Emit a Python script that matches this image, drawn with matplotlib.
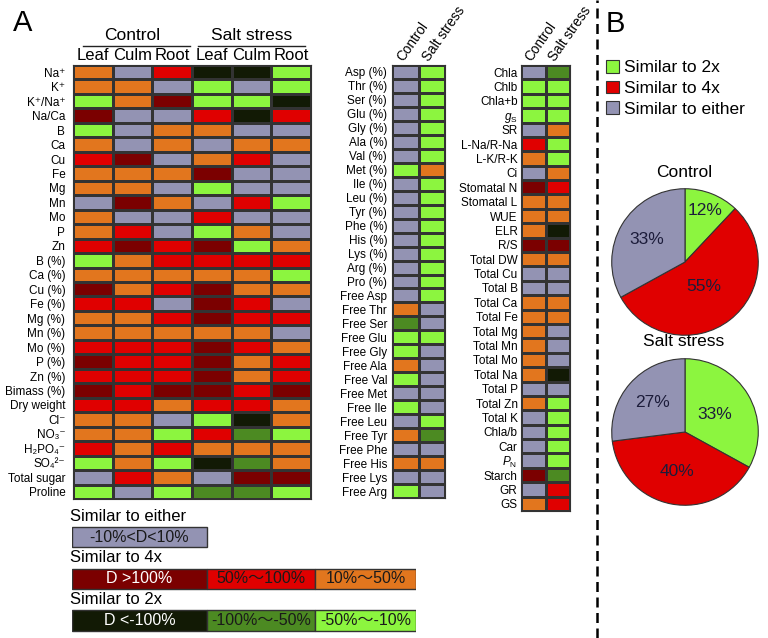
import matplotlib
matplotlib.use("Agg")
import matplotlib.pyplot as plt
import numpy as np
from matplotlib.colors import ListedColormap
from matplotlib.lines import Line2D

plt.rcParams['font.family'] = ['Liberation Sans', 'DejaVu Sans', 'Noto Sans CJK SC']
plt.rcParams['mathtext.fontset'] = 'custom'
plt.rcParams['mathtext.rm'] = 'Liberation Sans'
plt.rcParams['mathtext.it'] = 'Liberation Sans:italic'
plt.rcParams['mathtext.default'] = 'regular'

# ---- data -------------------------------------------------------------------
# cell codes: n = similar to either, D = >100%, r = 50~100%, o = 10~50%,
#             k = <-100%, G = -100~-50%, g = -50~-10%
code_order = "nDrokGg"
code_colors = ['#9393B3', '#7B0000', '#E00000', '#E2761E', '#121A05', '#4C8A22', '#8CF53F']

left_labels = ['Na⁺', 'K⁺', 'K⁺/Na⁺', 'Na/Ca', 'B', 'Ca', 'Cu', 'Fe', 'Mg',
               'Mn', 'Mo', 'P', 'Zn', 'B (%)', 'Ca (%)', 'Cu (%)', 'Fe (%)', 'Mg (%)',
               'Mn (%)', 'Mo (%)', 'P (%)', 'Zn (%)', 'Bimass (%)', 'Dry weight',
               'Cl⁻', 'NO₃⁻', 'H₂PO₄⁻', 'SO₄²⁻', 'Total sugar', 'Proline']
left_cols = ['Leaf', 'Culm', 'Root', 'Leaf', 'Culm', 'Root']
left_codes = ["onrkkg", "oongng", "goDggk", "Dnnrkr", "gnoonn", "ononoo", "rDnorn",
              "oooDnn", "oongnn", "nDonrg", "onnrnn", "orngon", "rDrDgo", "gorrrr",
              "ooooog", "DorDoo", "rrnDrn", "oorDrr", "ooooon", "rrrDro", "DrrDor",
              "rrrDor", "DrDDrD", "rrorro", "oongko", "oogrGg", "rorooo", "gogkGo",
              "nronDD", "gngGGg"]

mid_labels = ['Asp (%)', 'Thr (%)', 'Ser (%)', 'Glu (%)', 'Gly (%)', 'Ala (%)', 'Val (%)',
              'Met (%)', 'Ile (%)', 'Leu (%)', 'Tyr (%)', 'Phe (%)', 'His (%)', 'Lys (%)',
              'Arg (%)', 'Pro (%)', 'Free Asp', 'Free Thr', 'Free Ser', 'Free Glu',
              'Free Gly', 'Free Ala', 'Free Val', 'Free Met', 'Free Ile', 'Free Leu',
              'Free Tyr', 'Free Phe', 'Free His', 'Free Lys', 'Free Arg']
mid_codes = ["ng", "ng", "ng", "ng", "ng", "ng", "ng", "go", "ng", "ng", "ng", "ng",
             "ng", "ng", "ng", "ng", "ng", "on", "Gn", "gg", "gn", "on", "gn", "nn",
             "gn", "ng", "oG", "nn", "oo", "nn", "gn"]

right_labels = ['Chla', 'Chlb', 'Chla+b', r'$\mathit{g}_\mathrm{S}$', 'SR', 'L-Na/R-Na',
                'L-K/R-K', 'Ci', 'Stomatal N', 'Stomatal L', 'WUE', 'ELR', 'R/S',
                'Total DW', 'Total Cu', 'Total B', 'Total Ca', 'Total Fe', 'Total Mg',
                'Total Mn', 'Total Mo', 'Total Na', 'Total P', 'Total Zn', 'Total K',
                'Chla/b', 'Car', r'$\mathit{P}_\mathrm{N}$', 'Starch', 'GR', 'GS']
right_codes = ["nG", "gg", "gg", "gg", "no", "rg", "og", "no", "Dr", "oo", "oo", "ok",
               "DD", "oo", "nn", "nn", "oo", "oo", "on", "on", "on", "ok", "nn", "og",
               "ng", "ng", "ng", "ng", "DG", "nr", "or"]
treat_cols = ['Control', 'Salt stress']

pie_labels = ['Similar to 2x', 'Similar to 4x', 'Similar to either']
pie_control = [12, 55, 33]
pie_salt = [33, 40, 27]

legend_titles = ['Similar to either', 'Similar to 4x', 'Similar to 2x']
legend_texts = [['-10%<D<10%'], ['D >100%', '50%～100%', '10%～50%'],
                ['D <-100%', '-100%～-50%', '-50%～-10%']]
legend_codes = [['n'], ['D', 'r', 'o'], ['k', 'G', 'g']]

# ---- layout helpers (pixel based) --------------------------------------------
W, H = 768, 638
fig = plt.figure(figsize=(W / 100, H / 100), dpi=100)
EDGE = '#333333'
cmap = ListedColormap(code_colors)


def rect(x0, y0, x1, y1):
    return [x0 / W, 1 - y1 / H, (x1 - x0) / W, (y1 - y0) / H]


def fx(x):
    return x / W


def fy(y):
    return 1 - y / H


def heatmap(r, codes, labels, pad):
    ax = fig.add_axes(r)
    mat = np.array([[code_order.index(c) for c in row] for row in codes])
    ax.pcolormesh(mat, cmap=cmap, vmin=-0.5, vmax=6.5, edgecolors=EDGE, linewidth=0.8)
    ax.set_xlim(0, mat.shape[1])
    ax.set_ylim(mat.shape[0], 0)
    ax.set_yticks(np.arange(len(labels)) + 0.5, labels, fontsize=8.5)
    ax.tick_params(length=0, pad=pad)
    ax.xaxis.tick_top()
    for s in ax.spines.values():
        s.set_color(EDGE)
        s.set_linewidth(0.8)
    return ax


# ---- panel A heatmaps ---------------------------------------------------------
ax1 = heatmap(rect(73, 65, 311, 499), left_codes, left_labels, 5.5)
ax1.set_xticks(np.arange(6) + 0.5, left_cols, fontsize=12)
ax1.tick_params(axis='x', pad=1.5)

for name, cx, (l0, l1) in [('Control', 132, (83, 190)), ('Salt stress', 252, (198, 305))]:
    fig.text(fx(cx), fy(35), name, ha='center', va='center', fontsize=12.5)
    fig.add_artist(Line2D([fx(l0), fx(l1)], [fy(46), fy(46)], transform=fig.transFigure,
                          color='#222222', lw=1))

ax2 = heatmap(rect(392, 65, 445, 498), mid_codes, mid_labels, 3.5)
ax3 = heatmap(rect(521, 65, 570, 511), right_codes, right_labels, 2.5)
for ax in (ax2, ax3):
    ax.set_xticks(np.arange(2) + 0.5, treat_cols, fontsize=9.8)
    for t in ax.get_xticklabels():
        t.set_rotation(55)
        t.set_ha('left')
        t.set_va('bottom')
        t.set_rotation_mode('anchor')
    ax.tick_params(axis='x', pad=1)

fig.text(fx(13), fy(23), 'A', fontsize=21, va='center', ha='left')

# ---- bottom colour key ----------------------------------------------------------
seg_widths = [135, 108, 101]
axl = fig.add_axes(rect(72, 505, 416, 638))
for i, (codes, texts) in enumerate(zip(legend_codes, legend_texts)):
    left = 0
    for j, (c, t) in enumerate(zip(codes, texts)):
        w = seg_widths[j]
        axl.barh(i, w, left=left, height=0.49, color=code_colors[code_order.index(c)],
                 edgecolor=EDGE, linewidth=1)
        tc = 'white' if c in 'Dk' else '#1a1a1a'
        axl.text(left + w / 2, i, t, ha='center', va='center', fontsize=11.5, color=tc)
        left += w
    axl.text(-2, i - 0.5, legend_titles[i], ha='left', va='center', fontsize=12)
axl.set_xlim(0, 344)
axl.set_ylim(2.42, -0.767)
axl.axis('off')

# ---- panel B ------------------------------------------------------------------
fig.add_artist(Line2D([fx(597), fx(597)], [0, 1], transform=fig.transFigure,
                      color='black', lw=1.8, dashes=(4, 2.2)))
fig.text(fx(606), fy(24), 'B', fontsize=21, va='center', ha='left')

pie_colors = [code_colors[6], code_colors[2], code_colors[0]]
R = 74
wedges_ref = None
for title, vals, cy, dists in [('Control', pie_control, 262, [0.75, 0.42, 0.6]),
                               ('Salt stress', pie_salt, 432, [0.47, 0.55, 0.6])]:
    axp = fig.add_axes(rect(685 - R, cy - R, 685 + R, cy + R))
    wedges, _ = axp.pie(vals, colors=pie_colors, startangle=90, counterclock=False,
                        wedgeprops=dict(edgecolor=EDGE, linewidth=0.8))
    for w, v, d in zip(wedges, vals, dists):
        ang = np.deg2rad((w.theta1 + w.theta2) / 2)
        axp.text(d * np.cos(ang), d * np.sin(ang), f'{v}%', ha='center', va='center',
                 fontsize=12.5, color='#1c1c3a')
    axp.set_xlim(-1.01, 1.01)
    axp.set_ylim(-1.01, 1.01)
    axp.set_aspect('equal')
    fig.text(fx(684), fy(cy - R - 16), title, ha='center', va='center', fontsize=12.5)
    if wedges_ref is None:
        wedges_ref = wedges

fig.legend(wedges_ref, pie_labels, loc='upper left', bbox_to_anchor=(fx(606), fy(60)),
           frameon=False, fontsize=12.5, handlelength=0.75, handleheight=0.75,
           handletextpad=0.3, labelspacing=0.3, borderpad=0, borderaxespad=0)

fig.savefig('out.png', dpi=100)
